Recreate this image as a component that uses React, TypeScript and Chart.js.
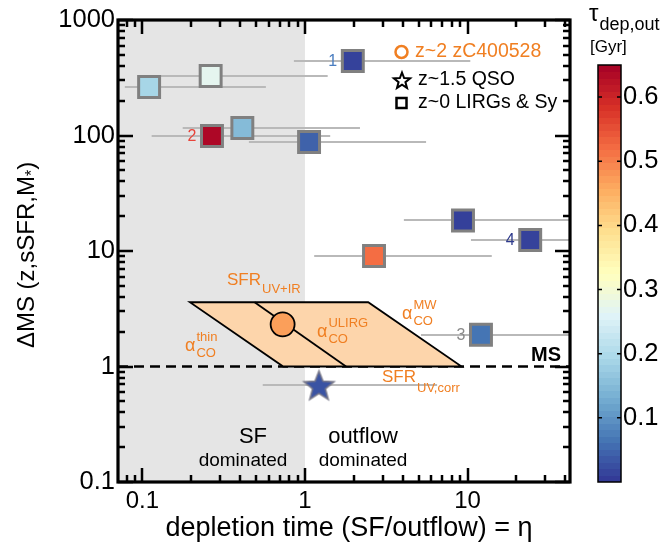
import React, { useEffect, useRef } from 'react';
import { Chart, registerables } from 'chart.js';
Chart.register(...registerables);

// ---------------- data ----------------
// z~0 LIRGs & Seyferts
const lirgEta = [1.97, 0.11, 0.263, 0.268, 0.412, 1.06, 9.38, 24.3, 2.66, 12.1];
const lirgDMS = [442, 263, 327, 99, 116, 88, 18.4, 12.45, 9.05, 1.88];
const lirgEtaLo = [0.855, 0.078, 0.095, 0.114, 0.177, 0.452, 4.06, 10.5, 1.14, 5.17];
const lirgEtaHi = [10.4, 0.575, 1.38, 1.43, 2.18, 5.56, 80, 80, 14.1, 80];
const lirgTau = [0.012, 0.19, 0.27, 0.64, 0.15, 0.045, 0.01, 0.012, 0.52, 0.065];
const lirgId = ['1', '', '', '2', '', '', '', '4', '', '3'];
const lirgIdColor = ['#4a7dc0', '', '', '#e8443a', '', '', '', '#2e3a8c', '', '#8a8a8a'];

// z~1.5 QSO
const qsoEta = [1.22];
const qsoDMS = [0.69];
const qsoEtaLo = [0.55];
const qsoEtaHi = [6.5];
const qsoTau = [0.03];

// z~2 zC400528
const zcEta = [0.729];
const zcDMS = [2.32];
const zcTau = [0.47];

// alpha_CO / SFR parallelogram
const boxTopDMS = 3.6;
const boxBotDMS = 1.0;
const boxTopEta = [0.196, 0.49, 2.45];
const boxBotEta = [0.735, 1.79, 9.2];

const msDMS = 1;
const etaSplit = 1;

const xMin = 0.0708;
const xMax = 42.7;
const yMin = 0.1;
const yMax = 1000;
const xTickLabels = [0.1, 1, 10];
const yTickLabels = [0.1, 1, 10, 100, 1000];
const tauMin = 0;
const tauMax = 0.65;
const cbTicks = [0.1, 0.2, 0.3, 0.4, 0.5, 0.6];

// ---------------- helpers ----------------
const FONT = "'Liberation Sans', Arial, Helvetica, sans-serif";
const ORANGE = '#f07f22';

const CMAP = [
  [49, 54, 149], [69, 117, 180], [116, 173, 209], [171, 217, 233], [224, 243, 248],
  [255, 255, 191], [254, 224, 144], [253, 174, 97], [244, 109, 67], [215, 48, 39], [165, 0, 38],
];
function cmapT(t: number) {
  t = Math.max(0, Math.min(1, t));
  const f = t * (CMAP.length - 1);
  const i = Math.min(CMAP.length - 2, Math.floor(f));
  const u = f - i;
  const a = CMAP[i], b = CMAP[i + 1];
  const c = [0, 1, 2].map(k => Math.round(a[k] + (b[k] - a[k]) * u));
  return `rgb(${c[0]},${c[1]},${c[2]})`;
}
const tauColor = (v: number) => cmapT((v - tauMin) / (tauMax - tauMin));

function starPath(g: CanvasRenderingContext2D, cx: number, cy: number, R: number, r: number) {
  g.beginPath();
  for (let i = 0; i < 10; i++) {
    const ang = -Math.PI / 2 + (i * Math.PI) / 5;
    const rad = i % 2 === 0 ? R : r;
    g.lineTo(cx + rad * Math.cos(ang), cy + rad * Math.sin(ang));
  }
  g.closePath();
}
function makeStar(R: number, r: number, fill: string, stroke: string, lw: number) {
  const size = Math.ceil(2 * R + 2 * lw + 2);
  const c = document.createElement('canvas');
  c.width = size;
  c.height = size;
  const g = c.getContext('2d')!;
  starPath(g, size / 2, size / 2 + R * 0.1, R, r);
  g.fillStyle = fill;
  g.fill();
  g.lineWidth = lw;
  g.strokeStyle = stroke;
  g.stroke();
  return c;
}

function txt(ctx: CanvasRenderingContext2D, s: string, x: number, y: number, size: number, color: string,
  align: CanvasTextAlign = 'left', weight = 'normal', family = FONT) {
  ctx.font = `${weight} ${size}px ${family}`;
  ctx.fillStyle = color;
  ctx.textAlign = align;
  ctx.textBaseline = 'middle';
  ctx.fillText(s, x, y);
  return ctx.measureText(s).width;
}

function minorValues(lo: number, hi: number) {
  const out: number[] = [];
  for (let e = -3; e <= 4; e++) {
    for (let k = 1; k <= 9; k++) {
      const v = k * Math.pow(10, e);
      if (v >= lo * 0.9999 && v <= hi * 1.0001) out.push(v);
    }
  }
  return out;
}

const deco = {
  id: 'deco',
  beforeDatasetsDraw(chart: any) {
    const { ctx, chartArea: a, scales } = chart;
    const x = scales.x, y = scales.y;
    ctx.save();
    ctx.beginPath();
    ctx.rect(a.left, a.top, a.right - a.left, a.bottom - a.top);
    ctx.clip();
    // SF dominated shading
    const xs = x.getPixelForValue(etaSplit);
    ctx.fillStyle = '#e5e5e5';
    ctx.fillRect(a.left, a.top, xs - a.left, a.bottom - a.top);
    // main sequence
    const yms = y.getPixelForValue(msDMS);
    ctx.strokeStyle = '#000';
    ctx.lineWidth = 2.5;
    ctx.setLineDash([10, 6]);
    ctx.beginPath();
    ctx.moveTo(a.left, yms);
    ctx.lineTo(a.right, yms);
    ctx.stroke();
    ctx.setLineDash([]);
    // parallelogram
    const yt = y.getPixelForValue(boxTopDMS), yb = y.getPixelForValue(boxBotDMS);
    const tx = boxTopEta.map((v: number) => x.getPixelForValue(v));
    const bx = boxBotEta.map((v: number) => x.getPixelForValue(v));
    ctx.beginPath();
    ctx.moveTo(tx[0], yt);
    ctx.lineTo(tx[2], yt);
    ctx.lineTo(bx[2], yb);
    ctx.lineTo(bx[0], yb);
    ctx.closePath();
    ctx.fillStyle = '#fdd5ab';
    ctx.fill();
    ctx.lineWidth = 1.8;
    ctx.strokeStyle = '#000';
    ctx.stroke();
    ctx.beginPath();
    ctx.moveTo(tx[1], yt);
    ctx.lineTo(bx[1], yb);
    ctx.stroke();
    // error bars
    ctx.strokeStyle = '#b9b9b9';
    ctx.lineWidth = 2;
    const bars = (lo: number[], hi: number[], yy: number[]) => {
      for (let i = 0; i < lo.length; i++) {
        const py = Math.round(y.getPixelForValue(yy[i]));
        ctx.beginPath();
        ctx.moveTo(x.getPixelForValue(lo[i]), py);
        ctx.lineTo(x.getPixelForValue(hi[i]), py);
        ctx.stroke();
      }
    };
    bars(lirgEtaLo, lirgEtaHi, lirgDMS);
    bars(qsoEtaLo, qsoEtaHi, qsoDMS);
    ctx.restore();
  },
  afterDatasetsDraw(chart: any) {
    const { ctx, chartArea: a, scales } = chart;
    const x = scales.x, y = scales.y;
    ctx.save();
    // id numbers
    for (let i = 0; i < lirgId.length; i++) {
      if (!lirgId[i]) continue;
      txt(ctx, lirgId[i], x.getPixelForValue(lirgEta[i]) - 20, y.getPixelForValue(lirgDMS[i]) + 0.5, 16, lirgIdColor[i], 'center');
    }
    // region text
    txt(ctx, 'SF', 253, 437, 22, '#000', 'center');
    txt(ctx, 'dominated', 243, 461, 19, '#000', 'center');
    txt(ctx, 'outflow', 363, 437, 22, '#000', 'center');
    txt(ctx, 'dominated', 363, 461, 19, '#000', 'center');
    txt(ctx, 'MS', 546, 355, 20, '#000', 'center', 'bold');
    // SFR labels
    let w = txt(ctx, 'SFR', 227, 280, 17, ORANGE);
    txt(ctx, 'UV+IR', 227 + w + 1, 289, 13, ORANGE);
    w = txt(ctx, 'SFR', 382, 377, 17, ORANGE);
    txt(ctx, 'UV,corr', 382 + w + 1, 388, 13, ORANGE);
    // alpha_CO labels
    const alpha = (l: number, yc: number, sup: string) => {
      const aw = txt(ctx, 'α', l, yc, 18, ORANGE);
      txt(ctx, sup, l + aw + 1, yc - 9, 13, ORANGE);
      txt(ctx, 'CO', l + aw + 1, yc + 7, 13, ORANGE);
    };
    alpha(185, 346, 'thin');
    alpha(317, 332, 'ULIRG');
    alpha(402, 314, 'MW');

    // frame and ticks
    ctx.strokeStyle = '#000';
    ctx.lineCap = 'butt';
    ctx.lineWidth = 2.5;
    const xm = minorValues(xMin, xMax);
    for (const v of xm) {
      const major = xTickLabels.includes(v);
      const L = major ? 14 : 7;
      const px = Math.round(x.getPixelForValue(v));
      ctx.beginPath();
      ctx.moveTo(px, a.bottom); ctx.lineTo(px, a.bottom - L);
      ctx.moveTo(px, a.top); ctx.lineTo(px, a.top + L);
      ctx.stroke();
    }
    const ym = minorValues(yMin, yMax);
    for (const v of ym) {
      const major = yTickLabels.includes(v);
      const L = major ? 15 : 7;
      const py = Math.round(y.getPixelForValue(v));
      ctx.beginPath();
      ctx.moveTo(a.left, py); ctx.lineTo(a.left + L, py);
      ctx.moveTo(a.right, py); ctx.lineTo(a.right - L, py);
      ctx.stroke();
    }
    ctx.lineWidth = 3.2;
    ctx.strokeRect(a.left, a.top, a.right - a.left, a.bottom - a.top);

    // legend
    ctx.lineWidth = 2.5;
    ctx.strokeStyle = ORANGE;
    ctx.beginPath();
    ctx.arc(401.5, 52, 6, 0, Math.PI * 2);
    ctx.stroke();
    txt(ctx, 'z~2 zC400528', 415, 52, 19.5, ORANGE);
    starPath(ctx, 402, 81, 8.5, 3.6);
    ctx.fillStyle = '#fff';
    ctx.fill();
    ctx.lineWidth = 2;
    ctx.strokeStyle = '#000';
    ctx.stroke();
    txt(ctx, 'z~1.5 QSO', 418, 80, 19.5, '#000');
    ctx.lineWidth = 2.5;
    ctx.strokeRect(396.5, 98, 10, 10);
    txt(ctx, 'z~0 LIRGs & Sy', 418, 103, 19.5, '#000');

    // colorbar
    const cx0 = 598, cx1 = 621, ct = 65, cb = 482;
    const n = 64;
    for (let i = 0; i < n; i++) {
      const y0 = cb - ((i + 1) / n) * (cb - ct);
      const y1 = cb - (i / n) * (cb - ct);
      ctx.fillStyle = cmapT((i + 0.5) / n);
      ctx.fillRect(cx0, Math.floor(y0), cx1 - cx0, Math.ceil(y1) - Math.floor(y0));
    }
    ctx.lineWidth = 1.5;
    ctx.strokeStyle = '#000';
    ctx.strokeRect(cx0, ct, cx1 - cx0, cb - ct);
    for (const v of cbTicks) {
      const py = cb - ((v - tauMin) / (tauMax - tauMin)) * (cb - ct);
      ctx.beginPath();
      ctx.moveTo(cx0, py); ctx.lineTo(cx0 + 4, py);
      ctx.moveTo(cx1, py); ctx.lineTo(cx1 - 4, py);
      ctx.stroke();
      txt(ctx, v.toFixed(1), cx1 + 2, py, 25.5, '#000');
    }
    const tw = txt(ctx, 'τ', 589, 14, 24, '#000', 'left', 'normal', FONT);
    txt(ctx, 'dep,out', 589 + tw + 1, 25, 18, '#000');
    txt(ctx, '[Gyr]', 590, 47, 17, '#000');

    // axis titles
    const xt = 'depletion time (SF/outflow) = η';
    txt(ctx, xt, 349, 529, 27, '#000', 'center');
    // y title rotated
    ctx.save();
    ctx.translate(27, 255);
    ctx.rotate(-Math.PI / 2);
    ctx.font = `24px ${FONT}`;
    const p1 = 'ΔMS (z,sSFR,M';
    const w1 = ctx.measureText(p1).width;
    ctx.font = `16px ${FONT}`;
    const w2 = ctx.measureText('*').width;
    ctx.font = `24px ${FONT}`;
    const w3 = ctx.measureText(')').width;
    let sx = -(w1 + w2 + w3) / 2;
    txt(ctx, p1, sx, 0, 24, '#000');
    sx += w1;
    txt(ctx, '*', sx, 6, 16, '#000');
    sx += w2;
    txt(ctx, ')', sx, 0, 24, '#000');
    ctx.restore();

    ctx.restore();
  },
};

export default function App() {
  const ref = useRef<HTMLCanvasElement>(null);
  useEffect(() => {
    const canvas = ref.current!;
    const star = makeStar(15.8, 6.8, tauColor(qsoTau[0]), '#7a7a8a', 1.5);
    const chart = new Chart(canvas, {
      type: 'scatter',
      data: {
        datasets: [
          {
            label: 'z~2 zC400528',
            data: zcEta.map((v, i) => ({ x: v, y: zcDMS[i] })),
            pointStyle: 'circle',
            pointRadius: 12,
            backgroundColor: zcTau.map(tauColor),
            borderColor: '#000',
            borderWidth: 1.8,
          },
          {
            label: 'z~1.5 QSO',
            data: qsoEta.map((v, i) => ({ x: v, y: qsoDMS[i] })),
            pointStyle: star as any,
            pointRadius: 16,
          },
          {
            label: 'z~0 LIRGs & Sy',
            data: lirgEta.map((v, i) => ({ x: v, y: lirgDMS[i] })),
            pointStyle: 'rect',
            pointRadius: 14.8,
            backgroundColor: lirgTau.map(tauColor),
            borderColor: '#808080',
            borderWidth: 3,
          },
        ],
      },
      options: {
        animation: false,
        responsive: false,
        devicePixelRatio: 1,
        layout: { padding: { left: 0, right: 95, top: 20, bottom: 0 } },
        plugins: { legend: { display: false }, tooltip: { enabled: false } },
        scales: {
          x: {
            type: 'logarithmic',
            min: xMin,
            max: xMax,
            grid: { display: false, drawTicks: false },
            border: { display: false },
            afterFit: (s: any) => { s.height = 62; },
            afterBuildTicks: (s: any) => { s.ticks = xTickLabels.map(v => ({ value: v })); },
            ticks: {
              autoSkip: false,
              maxRotation: 0,
              padding: 5,
              color: '#000',
              font: { family: FONT, size: 24 },
              callback: (v: any) => String(v),
            },
          },
          y: {
            type: 'logarithmic',
            min: yMin,
            max: yMax,
            grid: { display: false, drawTicks: false },
            border: { display: false },
            afterFit: (s: any) => { s.width = 118; },
            afterBuildTicks: (s: any) => { s.ticks = yTickLabels.map(v => ({ value: v })); },
            ticks: {
              autoSkip: false,
              padding: 3,
              color: '#000',
              font: { family: FONT, size: 25.5 },
              callback: (v: any) => String(v),
            },
          },
        },
      },
      plugins: [deco],
    } as any);
    return () => chart.destroy();
  }, []);
  return (
    <div style={{ position: 'absolute', left: 0, top: 0, width: 665, height: 544, background: '#fff' }}>
      <canvas ref={ref} width={665} height={544} style={{ display: 'block', width: 665, height: 544 }} />
    </div>
  );
}
